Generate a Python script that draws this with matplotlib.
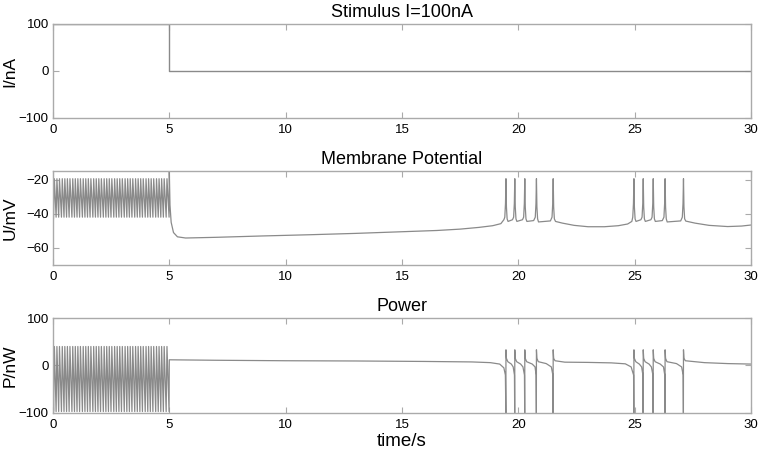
import numpy as np
import matplotlib.pyplot as plt

plt.rcParams['font.family'] = ['Liberation Sans', 'DejaVu Sans']

# stimulus current (s, nA)
stim_t = [0, 5, 5, 30]
stim_i = [100, 100, 0, 0]

# spike times (s)
tonic_spikes = [0.06, 0.17, 0.28, 0.40, 0.51, 0.62, 0.73, 0.85, 0.96, 1.07,
                1.18, 1.30, 1.41, 1.52, 1.63, 1.75, 1.86, 1.97, 2.08, 2.20,
                2.31, 2.42, 2.53, 2.65, 2.76, 2.87, 2.98, 3.10, 3.21, 3.32,
                3.43, 3.55, 3.66, 3.77, 3.88, 4.00, 4.11, 4.22, 4.33, 4.45,
                4.56, 4.67, 4.78, 4.90]
burst_spikes = [19.47, 19.85, 20.28, 20.78, 21.50,
                24.97, 25.37, 25.80, 26.31, 27.10]

# membrane potential between spikes (s, mV)
u_t = [5.0, 5.03, 5.08, 5.18, 5.35, 5.7, 7, 9, 11, 13, 15, 16.5, 17.5, 18.3,
       18.9, 19.25, 19.38,
       19.56, 19.75, 19.94, 20.18, 20.37, 20.66, 20.87, 21.38,
       21.6, 21.9, 22.4, 23.0, 23.7, 24.3, 24.7, 24.88,
       25.06, 25.27, 25.46, 25.7, 25.89, 26.19, 26.4, 26.98,
       27.2, 27.6, 28.2, 29.0, 29.6, 30.0]
u_v = [-15, -35, -45, -51, -53.5, -54.2, -53.8, -53, -52.3, -51.5, -50.5,
       -49.8, -49, -48, -47, -45.8, -43.5,
       -44.5, -43.5, -44.5, -43.5, -44.5, -44, -44.8, -44.2,
       -44.5, -45.5, -46.8, -47.6, -47.6, -47, -46, -44.5,
       -44.5, -43.5, -44.5, -43.5, -44.5, -44, -44.8, -44.2,
       -44.3, -45.5, -46.8, -47.5, -47.2, -46.6]
u_start = -48
u_tonic_peak, u_tonic_trough = -19.5, -42
u_burst_peak = -19.5

# power between spikes (s, nW)
p_t = [5.0, 7, 10, 13, 16, 18, 18.8, 19.2, 19.38, 19.445,
       19.55, 19.7, 19.78, 19.835,
       19.93, 20.1, 20.2, 20.265,
       20.36, 20.6, 20.72, 20.765,
       20.86, 21.2, 21.42, 21.485,
       21.58, 22, 23, 24, 24.6, 24.85, 24.955,
       25.05, 25.2, 25.3, 25.355,
       25.45, 25.62, 25.72, 25.785,
       25.88, 26.1, 26.24, 26.295,
       26.39, 26.8, 27.02, 27.085,
       27.18, 28, 29, 30]
p_v = [12, 11, 10, 9.5, 8.5, 7.5, 6, 3, -5, -20,
       8, 3, -3, -20,
       8, 3, -3, -20,
       8, 3, -3, -20,
       8, 4, -3, -20,
       10, 7, 6.5, 5.5, 3.5, -3, -20,
       8, 3, -3, -20,
       8, 3, -3, -20,
       8, 3, -3, -20,
       8, 4, -3, -20,
       10, 6, 4, 3]
p_start = 1
p_tonic_peak, p_tonic_trough = 40, -97
p_burst_peak, p_burst_trough = 33, -100


def merge(base_t, base_v, spike_t, spike_v):
    t = np.concatenate([base_t, spike_t])
    v = np.concatenate([base_v, spike_v])
    order = np.argsort(t, kind='stable')
    return t[order], v[order]


# membrane trace
ut, uv = [0.0], [u_start]
for s in tonic_spikes:
    ut += [s - 0.035, s]
    uv += [u_tonic_trough, u_tonic_peak]
ut += [4.99]
uv += [u_tonic_trough]
st, sv = [], []
for s in burst_spikes:
    st += [s - 0.05, s - 0.02, s, s + 0.02, s + 0.05]
    sv += [-42, -34, u_burst_peak, -36, -43]
bt, bv = merge(u_t, u_v, st, sv)
ut = np.concatenate([ut, bt])
uv = np.concatenate([uv, bv])

# power trace
pt, pv = [0.0], [p_start]
for s in tonic_spikes:
    pt += [s - 0.035, s]
    pv += [p_tonic_trough, p_tonic_peak]
pt += [4.99]
pv += [p_tonic_trough]
st, sv = [], []
for s in burst_spikes:
    st += [s - 0.004, s, s + 0.02]
    sv += [p_burst_trough, p_burst_peak, 15]
bt, bv = merge(p_t, p_v, st, sv)
pt = np.concatenate([pt, bt])
pv = np.concatenate([pv, bv])

line_c = '#8a8a8a'
frame_c = '#aaaaaa'

fig = plt.figure(figsize=(7.61, 4.51), dpi=100)
ax1 = fig.add_axes([0.0696, 0.7384, 0.9172, 0.2084])
ax2 = fig.add_axes([0.0696, 0.4124, 0.9172, 0.2084])
ax3 = fig.add_axes([0.0696, 0.0843, 0.9172, 0.2106])

ax1.plot(stim_t, stim_i, color=line_c, lw=1.0)
ax2.plot(ut, uv, color=line_c, lw=0.9)
ax3.plot(pt, pv, color=line_c, lw=0.9)

ax1.set_ylim(-100, 100)
ax1.set_yticks([-100, 0, 100])
ax2.set_ylim(-70, -15)
ax2.set_yticks([-60, -40, -20])
ax3.set_ylim(-100, 100)
ax3.set_yticks([-100, 0, 100])

ax1.set_title('Stimulus I=100nA', fontsize=13, pad=5)
ax2.set_title('Membrane Potential', fontsize=13, pad=5)
ax3.set_title('Power', fontsize=13, pad=5)
ax1.set_ylabel('I/nA', fontsize=12.5)
ax2.set_ylabel('U/mV', fontsize=12.5)
ax3.set_ylabel('P/nW', fontsize=12.5)
ax3.set_xlabel('time/s', fontsize=13.5, labelpad=1)

for ax in (ax1, ax2, ax3):
    ax.set_xlim(0, 30)
    ax.set_xticks([0, 5, 10, 15, 20, 25, 30])
    ax.tick_params(direction='in', top=True, right=True, length=4,
                   color=frame_c, labelsize=9.5, pad=3)
    ax.tick_params(axis='x', pad=4.5)
    for sp in ax.spines.values():
        sp.set_color(frame_c)
        sp.set_linewidth(1.0)
    ax.yaxis.set_label_coords(-0.051, 0.5)

plt.savefig('out.png', dpi=100)
